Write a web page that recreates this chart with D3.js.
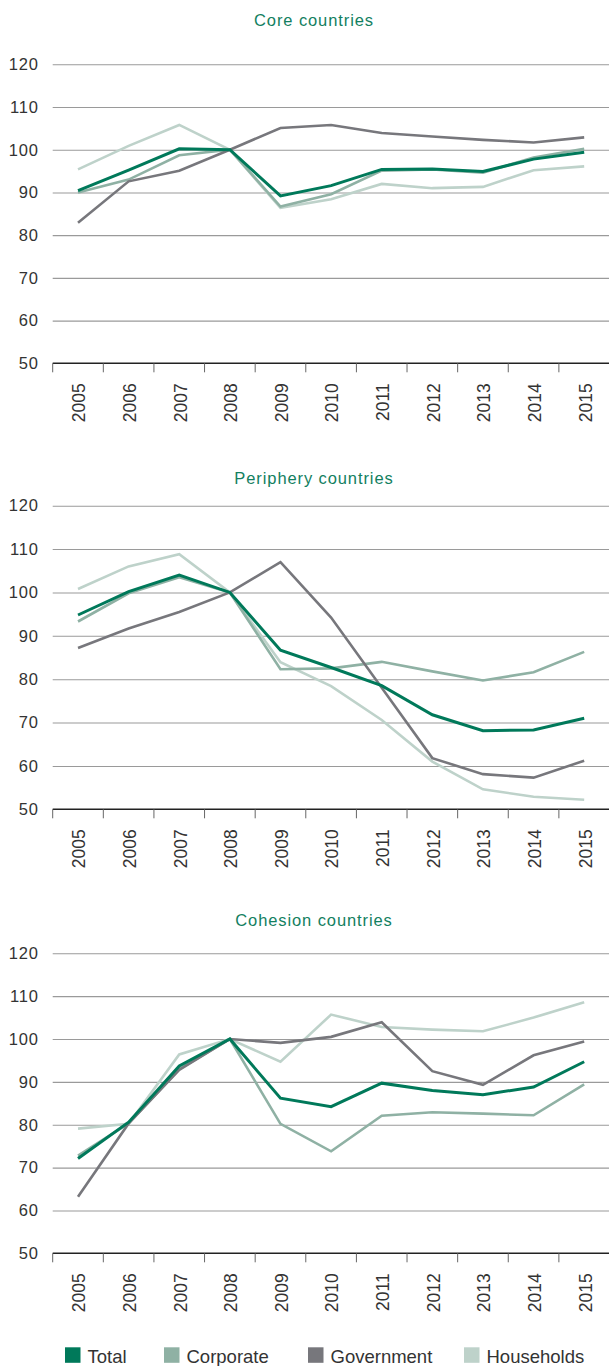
<!DOCTYPE html>
<html>
<head>
<meta charset="utf-8">
<script src="https://cdn.jsdelivr.net/npm/d3@7"></script>
<style>
  html, body { margin: 0; padding: 0; background: #fff; }
  svg { display: block; }
  text { font-family: "Liberation Sans", Arial, Helvetica, sans-serif; }
</style>
</head>
<body>
<svg id="chart" width="609" height="1366"></svg>
<script>
// Debt index by sector, 2008 = 100
const years = ["2005","2006","2007","2008","2009","2010","2011","2012","2013","2014","2015"];
const yTicks = [50, 60, 70, 80, 90, 100, 110, 120];
const seriesNames = ["Total", "Corporate", "Government", "Households"];
const seriesColors = ["#00795a", "#8fb1a4", "#77777c", "#bed2ca"];

const coreTotal      = [90.4, 95.2, 100.2, 100, 89.2, 91.6, 95.4, 95.5, 94.9, 97.8, 99.4];
const coreCorporate  = [90.0, 93.0, 98.7, 100, 86.7, 89.6, 95.1, 95.4, 94.6, 98.2, 100.2];
const coreGovernment = [82.9, 92.6, 95.1, 100, 105.1, 105.8, 103.9, 103.1, 102.3, 101.7, 102.9];
const coreHouseholds = [95.4, 100.9, 105.8, 100, 86.4, 88.4, 92.0, 91.0, 91.3, 95.2, 96.1];

const periTotal      = [94.8, 100.2, 104.0, 100, 86.7, 82.7, 78.5, 71.8, 68.1, 68.3, 71.0];
const periCorporate  = [93.3, 99.8, 103.5, 100, 82.3, 82.5, 84.0, 81.8, 79.7, 81.6, 86.3];
const periGovernment = [87.2, 91.7, 95.5, 100, 107.0, 94.2, 78.0, 61.8, 58.1, 57.3, 61.2];
const periHouseholds = [100.8, 106.0, 108.8, 100, 83.9, 78.4, 70.6, 61.0, 54.6, 52.9, 52.2];

const cohTotal      = [72.1, 80.6, 93.7, 100, 86.2, 84.2, 89.7, 88.0, 87.0, 88.8, 94.7];
const cohCorporate  = [72.8, 80.3, 93.0, 100, 80.2, 73.8, 82.1, 82.9, 82.6, 82.2, 89.4];
const cohGovernment = [63.2, 80.3, 92.8, 100, 99.1, 100.5, 103.9, 92.5, 89.3, 96.2, 99.4];
const cohHouseholds = [79.1, 80.2, 96.4, 100, 94.7, 105.7, 102.8, 102.2, 101.8, 105.0, 108.6];

const panels = [
  { title: "Core countries",      titleY: 26,  top: 64.3,  bottom: 363.3,
    series: [coreTotal, coreCorporate, coreGovernment, coreHouseholds] },
  { title: "Periphery countries", titleY: 484, top: 505.7, bottom: 809.3,
    series: [periTotal, periCorporate, periGovernment, periHouseholds] },
  { title: "Cohesion countries",  titleY: 926, top: 953.3, bottom: 1253.3,
    series: [cohTotal, cohCorporate, cohGovernment, cohHouseholds] }
];

const svg = d3.select("#chart");
const left = 52.7, right = 609.5;
const textColor = "#333";
const titleColor = "#13805f";

const x = d3.scaleBand().domain(years).range([left, right]).paddingInner(0).paddingOuter(0);

// draw order: lighter lines below, total on top
const drawOrder = [3, 1, 2, 0];
const lineWidths = [3, 2.6, 2.6, 2.6];

panels.forEach(p => {
  const g = svg.append("g");
  const y = d3.scaleLinear().domain([50, 120]).range([p.bottom, p.top]);

  // title
  g.append("text")
    .attr("x", 314).attr("y", p.titleY)
    .attr("text-anchor", "middle")
    .attr("fill", titleColor)
    .style("font-size", "16.5px")
    .style("letter-spacing", "0.9px")
    .text(p.title);

  // horizontal gridlines + value labels
  const yAxis = d3.axisLeft(y).tickValues(yTicks.filter(v => v > 50))
    .tickSize(-(right - left)).tickPadding(14).tickFormat(d3.format("d"));
  const ya = g.append("g").attr("transform", `translate(${left},0)`).call(yAxis);
  ya.select(".domain").remove();
  ya.selectAll(".tick line").attr("stroke", "#9a9a9a").attr("stroke-width", 1.1);
  ya.selectAll(".tick text")
    .attr("fill", textColor)
    .attr("x", -14)
    .style("font-size", "16.5px")
    .style("letter-spacing", "0.8px")
    .style("font-family", '"Liberation Sans", Arial, sans-serif');

  // baseline label (50)
  g.append("text")
    .attr("x", left - 14).attr("y", y(50))
    .attr("dy", "0.32em")
    .attr("text-anchor", "end")
    .attr("fill", textColor)
    .style("font-size", "16.5px")
    .style("letter-spacing", "0.8px")
    .text(d3.format("d")(50));

  // x axis: baseline, ticks at band boundaries, rotated year labels
  g.append("line")
    .attr("x1", left).attr("x2", right)
    .attr("y1", y(50)).attr("y2", y(50))
    .attr("stroke", "#222").attr("stroke-width", 1.5);

  g.selectAll(".xtick").data(years).enter().append("line")
    .attr("class", "xtick")
    .attr("x1", d => x(d)).attr("x2", d => x(d))
    .attr("y1", y(50)).attr("y2", y(50) + 9)
    .attr("stroke", "#666").attr("stroke-width", 1);

  g.selectAll(".xlabel").data(years).enter().append("text")
    .attr("class", "xlabel")
    .attr("transform", d => `translate(${x(d) + x.bandwidth() / 2 + 1},${y(50) + 20}) rotate(-90)`)
    .attr("text-anchor", "end")
    .attr("dy", "0.36em")
    .attr("fill", textColor)
    .style("font-size", "17.5px")
    .text(d => d);

  // series lines
  const line = d3.line()
    .x((d, i) => x(years[i]) + x.bandwidth() / 2)
    .y(d => y(d));

  drawOrder.forEach(si => {
    g.append("path")
      .datum(p.series[si])
      .attr("d", line)
      .attr("fill", "none")
      .attr("stroke", seriesColors[si])
      .attr("stroke-width", lineWidths[si])
      .attr("stroke-linejoin", "miter");
  });
});

// legend
const legendX = [65, 164, 308, 464];
const legend = svg.append("g");
seriesNames.forEach((name, i) => {
  legend.append("rect")
    .attr("x", legendX[i]).attr("y", 1347.3)
    .attr("width", 15.5).attr("height", 15.5)
    .attr("fill", seriesColors[i]);
  legend.append("text")
    .attr("x", legendX[i] + 22.5).attr("y", 1362.8)
    .attr("fill", textColor)
    .style("font-size", "18.5px")
    .text(name);
});
</script>
</body>
</html>
